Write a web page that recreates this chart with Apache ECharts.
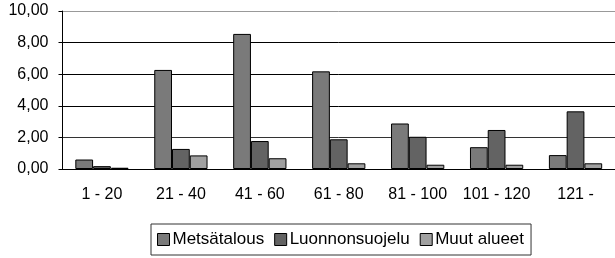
<!DOCTYPE html>
<html>
<head>
<meta charset="utf-8">
<script src="https://cdn.jsdelivr.net/npm/echarts@6/dist/echarts.min.js"></script>
<style>
  html, body { margin: 0; padding: 0; background: #fff; }
  #chart { width: 615px; height: 258px; }
</style>
</head>
<body>
<div id="chart"></div>
<script>
// luokat ja sarjat
var categories = ["1 - 20", "21 - 40", "41 - 60", "61 - 80", "81 - 100", "101 - 120", "121 -"];
var metsatalous = [0.60, 6.27, 8.55, 6.18, 2.88, 1.38, 0.88];
var luonnonsuojelu = [0.18, 1.27, 1.77, 1.88, 2.04, 2.47, 3.65];
var muutAlueet = [0.08, 0.86, 0.68, 0.36, 0.27, 0.27, 0.36];
var seriesNames = ["Metsätalous", "Luonnonsuojelu", "Muut alueet"];
var seriesColors = ["#7a7a7a", "#636363", "#a0a0a0"];
var yTicks = { min: 0, max: 10, interval: 2 };

var font = "Liberation Sans, Arial, sans-serif";

function makeSeries(name, data, color) {
    return {
        name: name,
        type: "bar",
        data: data,
        barCategoryGap: "32.5%",
        barGap: 0,
        itemStyle: { color: color, borderColor: "#000", borderWidth: 1 }
    };
}

var myChart = echarts.init(document.getElementById("chart"));
var option = {
    animation: false,
    // puolen pikselin siirto -> terävät pylväiden reunat
    grid: { left: 62.5, top: 11, width: 560, height: 158 },
    xAxis: {
        type: "category",
        data: categories,
        axisLine: { lineStyle: { color: "#000", width: 1 } },
        axisTick: { length: 5, lineStyle: { color: "#000" } },
        axisLabel: { color: "#000", fontSize: 16, fontFamily: font, margin: 18, interval: 0 }
    },
    yAxis: {
        type: "value",
        min: yTicks.min,
        max: yTicks.max,
        interval: yTicks.interval,
        axisLine: { show: true, lineStyle: { color: "#000", width: 1 } },
        axisTick: { show: true, length: 4, lineStyle: { color: "#000" } },
        axisLabel: {
            color: "#000", fontSize: 16, fontFamily: font, margin: 14,
            formatter: function(v) { return v.toFixed(2).replace(".", ","); }
        },
        splitLine: { lineStyle: { color: ["#000", "#333", "#000", "#000", "#000", "#999"], width: 1 } }
    },
    legend: {
        left: 151,
        top: 224,
        data: seriesNames,
        icon: "rect",
        itemWidth: 12,
        itemHeight: 12,
        itemGap: 10,
        padding: [7, 7, 7, 6],
        borderColor: "#333",
        borderWidth: 1,
        itemStyle: { borderColor: "#000", borderWidth: 1 },
        textStyle: { color: "#000", fontSize: 17, fontFamily: font, padding: [0, 0, 0, -2] }
    },
    series: [
        makeSeries(seriesNames[0], metsatalous, seriesColors[0]),
        makeSeries(seriesNames[1], luonnonsuojelu, seriesColors[1]),
        makeSeries(seriesNames[2], muutAlueet, seriesColors[2])
    ]
};
myChart.setOption(option);
</script>
</body>
</html>
